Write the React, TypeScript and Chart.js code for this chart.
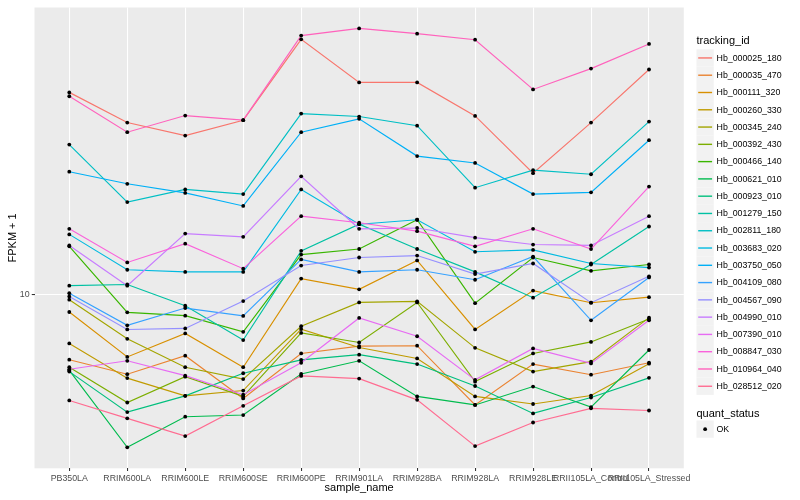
import React, { useEffect, useRef } from "react";
import { Chart, registerables } from "chart.js";

Chart.register(...registerables);

// ---------- data ----------
const sampleNames = [
  "PB350LA", "RRIM600LA", "RRIM600LE", "RRIM600SE", "RRIM600PE", "RRIM901LA",
  "RRIM928BA", "RRIM928LA", "RRIM928LE", "RRII105LA_Control", "RRII105LA_Stressed",
];

const trackingIds = [
  "Hb_000025_180", "Hb_000035_470", "Hb_000111_320", "Hb_000260_330", "Hb_000345_240",
  "Hb_000392_430", "Hb_000466_140", "Hb_000621_010", "Hb_000923_010", "Hb_001279_150",
  "Hb_002811_180", "Hb_003683_020", "Hb_003750_050", "Hb_004109_080", "Hb_004567_090",
  "Hb_004990_010", "Hb_007390_010", "Hb_008847_030", "Hb_010964_040", "Hb_028512_020",
];

// FPKM + 1 per sample (order of sampleNames)
const hb000025_180 = [47.6, 37.7, 34.1, 38.4, 71.7, 51.4, 51.4, 39.7, 25.5, 37.7, 56.8];
const hb000035_470 = [6.04, 5.40, 6.23, 4.48, 6.34, 6.71, 6.73, 4.26, 5.84, 5.38, 5.90];
const hb000111_320 = [8.73, 6.17, 7.40, 5.70, 11.3, 10.4, 13.0, 7.63, 10.3, 9.38, 9.79];
const hb000260_330 = [6.85, 5.24, 4.57, 4.76, 7.65, 6.64, 6.10, 4.55, 4.29, 4.58, 5.86];
const hb000345_240 = [9.60, 7.10, 5.70, 5.20, 7.82, 9.40, 9.48, 6.62, 5.51, 5.95, 8.36];
const hb000392_430 = [5.70, 4.34, 5.30, 4.55, 7.43, 6.90, 9.40, 5.10, 6.34, 6.93, 8.27];
const hb000466_140 = [14.5, 8.71, 8.49, 7.49, 13.6, 14.2, 17.8, 9.35, 13.3, 12.0, 12.6];
const hb000621_010 = [5.56, 3.07, 3.89, 3.94, 5.41, 5.99, 4.55, 4.26, 4.91, 4.19, 6.51];
const hb000923_010 = [5.51, 4.03, 4.57, 5.44, 6.03, 6.28, 5.84, 4.93, 3.99, 4.51, 5.25];
const hb001279_150 = [10.7, 10.8, 9.17, 7.03, 14.0, 17.2, 14.2, 11.9, 9.75, 12.6, 16.9];
const hb002811_180 = [31.8, 20.4, 22.5, 21.7, 40.4, 39.5, 36.8, 22.8, 26.1, 25.3, 38.0];
const hb003683_020 = [15.9, 12.1, 11.9, 11.9, 22.5, 17.2, 17.8, 13.9, 14.1, 12.7, 12.3];
const hb003750_050 = [25.8, 23.5, 21.9, 19.8, 35.0, 38.8, 29.1, 27.6, 21.7, 22.0, 32.9];
const hb004109_080 = [10.1, 7.88, 9.00, 8.47, 13.1, 11.9, 12.1, 11.2, 13.4, 8.19, 11.4];
const hb004567_090 = [9.85, 7.63, 7.69, 9.50, 12.5, 13.3, 13.5, 11.7, 12.7, 9.38, 11.5];
const hb004990_010 = [14.6, 10.7, 16.0, 15.6, 24.9, 16.6, 16.7, 15.5, 14.7, 14.6, 18.3];
const hb007390_010 = [5.61, 5.99, 5.34, 4.61, 5.90, 8.34, 7.24, 5.17, 6.59, 5.87, 8.19];
const hb008847_030 = [16.6, 12.8, 14.8, 12.2, 18.3, 17.4, 16.3, 14.5, 16.6, 14.2, 23.0];
const hb010964_040 = [46.2, 35.0, 39.8, 38.4, 73.8, 78.0, 74.9, 71.5, 48.7, 57.2, 69.2];
const hb028512_020 = [4.41, 3.84, 3.35, 4.23, 5.33, 5.22, 4.43, 3.10, 3.72, 4.15, 4.08];

const seriesValues = [
  hb000025_180, hb000035_470, hb000111_320, hb000260_330, hb000345_240,
  hb000392_430, hb000466_140, hb000621_010, hb000923_010, hb001279_150,
  hb002811_180, hb003683_020, hb003750_050, hb004109_080, hb004567_090,
  hb004990_010, hb007390_010, hb008847_030, hb010964_040, hb028512_020,
];

const yTickValues = [10];
const quantStatus = ["OK"];

// ---------- styles ----------
const seriesColors = [
  "#F8766D", "#EA8331", "#D89000", "#C09B00", "#A3A500",
  "#7CAE00", "#39B600", "#00BB4E", "#00BF7D", "#00C1A3",
  "#00BFC4", "#00BAE0", "#00B0F6", "#35A2FF", "#9590FF",
  "#C77CFF", "#E76BF3", "#FA62DB", "#FF62BC", "#FF6C91",
];

const FONT = '"Liberation Sans", Arial, Helvetica, sans-serif';
const PANEL_BG = "#EBEBEB";

const panelPlugin = {
  id: "panelBg",
  beforeDraw(chart: any) {
    const { ctx, chartArea } = chart;
    ctx.save();
    ctx.fillStyle = "#FFFFFF";
    ctx.fillRect(0, 0, chart.width, chart.height);
    ctx.fillStyle = PANEL_BG;
    ctx.fillRect(chartArea.left, chartArea.top, chartArea.right - chartArea.left, chartArea.bottom - chartArea.top);
    ctx.restore();
  },
};

const annotationsPlugin = {
  id: "ggTexts",
  afterDraw(chart: any) {
    const { ctx, chartArea } = chart;
    ctx.save();
    // axis titles
    ctx.fillStyle = "#000000";
    ctx.font = `11px ${FONT}`;
    ctx.textAlign = "center";
    ctx.textBaseline = "alphabetic";
    ctx.fillText("sample_name", (chartArea.left + chartArea.right) / 2, 491);
    ctx.save();
    ctx.translate(15.5, (chartArea.top + chartArea.bottom) / 2);
    ctx.rotate(-Math.PI / 2);
    ctx.fillText("FPKM + 1", 0, 0);
    ctx.restore();

    // legend: tracking_id
    const lx = 696.5;
    const key = 17.28;
    ctx.textAlign = "left";
    ctx.fillText("tracking_id", lx, 44);
    const top0 = 49.3;
    trackingIds.forEach((id, i) => {
      const y = top0 + i * key;
      ctx.fillStyle = "#F2F2F2";
      ctx.fillRect(lx, y, key, key);
      ctx.strokeStyle = seriesColors[i];
      ctx.lineWidth = 1.4;
      ctx.beginPath();
      ctx.moveTo(lx + 1.7, y + key / 2);
      ctx.lineTo(lx + key - 1.7, y + key / 2);
      ctx.stroke();
      ctx.fillStyle = "#000000";
      ctx.font = `8.8px ${FONT}`;
      ctx.textBaseline = "middle";
      ctx.fillText(id, lx + key + 2.75, y + key / 2 + 0.3);
    });

    // legend: quant_status
    ctx.font = `11px ${FONT}`;
    ctx.textBaseline = "alphabetic";
    ctx.fillText("quant_status", lx, 417);
    const qTop = 420.5;
    quantStatus.forEach((q, i) => {
      const y = qTop + i * key;
      ctx.fillStyle = "#F2F2F2";
      ctx.fillRect(lx, y, key, key);
      ctx.fillStyle = "#000000";
      ctx.beginPath();
      ctx.arc(lx + key / 2, y + key / 2, 1.9, 0, Math.PI * 2);
      ctx.fill();
      ctx.font = `8.8px ${FONT}`;
      ctx.textBaseline = "middle";
      ctx.fillText(q, lx + key + 2.75, y + key / 2 + 0.3);
    });
    ctx.restore();
  },
};

export default function App() {
  const canvasRef = useRef<HTMLCanvasElement | null>(null);

  useEffect(() => {
    if (!canvasRef.current) return;

    // ggplot-style 5% expansion in log space
    const all = seriesValues.flat();
    const lmin = Math.log10(Math.min(...all));
    const lmax = Math.log10(Math.max(...all));
    const pad = (lmax - lmin) * 0.05;
    const yMin = Math.pow(10, lmin - pad);
    const yMax = Math.pow(10, lmax + pad);
    const xPad = 0.6;

    const lineSets = seriesValues.map((vals, i) => ({
      type: "line" as const,
      label: trackingIds[i],
      data: vals.map((v, j) => ({ x: j, y: v })),
      borderColor: seriesColors[i],
      backgroundColor: seriesColors[i],
      borderWidth: 1.15,
      pointRadius: 0,
      pointHoverRadius: 0,
      fill: false,
      tension: 0,
      order: 100 - i,
    }));

    const pointSet = {
      type: "scatter" as const,
      label: "quant_status",
      data: seriesValues.flatMap((vals) => vals.map((v, j) => ({ x: j, y: v }))),
      showLine: false,
      pointRadius: 1.9,
      pointHoverRadius: 1.9,
      pointBackgroundColor: "#000000",
      pointBorderWidth: 0,
      borderColor: "#000000",
      order: 0,
    };

    const chart = new Chart(canvasRef.current, {
      type: "line",
      data: { datasets: [...lineSets, pointSet] as any },
      plugins: [panelPlugin, annotationsPlugin],
      options: {
        animation: false,
        responsive: false,
        devicePixelRatio: 1,
        layout: { padding: { top: 5.5, right: 116.2, left: 0, bottom: 0 } },
        plugins: { legend: { display: false }, tooltip: { enabled: false }, title: { display: false } },
        events: [],
        scales: {
          x: {
            type: "linear",
            min: -xPad,
            max: sampleNames.length - 1 + xPad,
            afterBuildTicks: (scale: any) => {
              scale.ticks = sampleNames.map((_, i) => ({ value: i }));
            },
            afterFit: (scale: any) => {
              scale.height = 31.7;
            },
            ticks: {
              autoSkip: false,
              maxRotation: 0,
              minRotation: 0,
              padding: 2.2,
              color: "#4D4D4D",
              font: { family: FONT, size: 8.8 },
              callback: (v: any) => sampleNames[Math.round(Number(v))] ?? "",
            },
            grid: {
              color: "#FFFFFF",
              lineWidth: 1.07,
              tickColor: "#333333",
              tickLength: 2.75,
              tickWidth: 1.07,
              drawTicks: true,
            },
            border: { display: false },
          },
          y: {
            type: "logarithmic",
            min: yMin,
            max: yMax,
            afterBuildTicks: (scale: any) => {
              scale.ticks = yTickValues.map((v) => ({ value: v }));
            },
            afterFit: (scale: any) => {
              scale.width = 34.5;
            },
            ticks: {
              padding: 2.2,
              color: "#4D4D4D",
              font: { family: FONT, size: 8.8 },
              callback: (v: any) => String(v),
            },
            grid: {
              color: "#FFFFFF",
              lineWidth: 1.07,
              tickColor: "#333333",
              tickLength: 2.75,
              tickWidth: 1.07,
              drawTicks: true,
            },
            border: { display: false },
          },
        },
      } as any,
    });

    return () => chart.destroy();
  }, []);

  return (
    <div style={{ position: "fixed", left: 0, top: 0, width: 800, height: 500, background: "#fff" }}>
      <canvas ref={canvasRef} width={800} height={500} style={{ width: 800, height: 500, display: "block" }} />
    </div>
  );
}
